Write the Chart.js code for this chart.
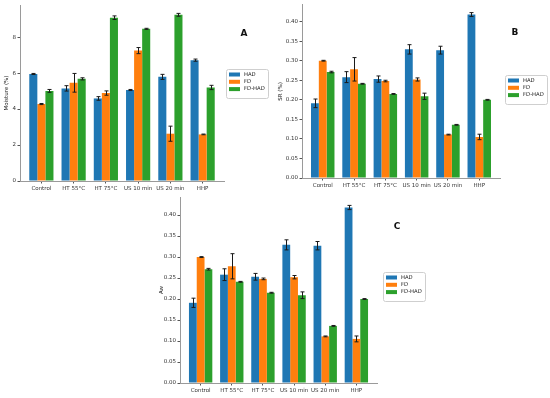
<!DOCTYPE html>
<html>
<head>
<meta charset="utf-8">
<script src="https://cdn.jsdelivr.net/npm/chart.js@4.4.1/dist/chart.umd.min.js"></script>
<style>
  body { margin: 0; background: #fff; }
  #wrap { position: relative; width: 550px; height: 398px; overflow: hidden; }
  canvas { position: absolute; }
</style>
</head>
<body>
<div id="wrap">
  <canvas id="chartA" width="275" height="200" style="left:0;top:0"></canvas>
  <canvas id="chartB" width="275" height="200" style="left:275px;top:0"></canvas>
  <canvas id="chartC" width="280" height="208" style="left:154px;top:190px"></canvas>
</div>
<script>
const categories = ['Control', 'HT 55°C', 'HT 75°C', 'US 10 min', 'US 20 min', 'HHP'];
const seriesNames = ['HAD', 'FD', 'FD-HAD'];
const seriesColors = ['#1f77b4', '#ff7f0e', '#2ca02c'];

// A - moisture (%)
const moistureHAD = [5.95, 5.15, 4.59, 5.06, 5.79, 6.72];
const moistureFD = [4.28, 5.46, 4.89, 7.25, 2.63, 2.59];
const moistureFDHAD = [5.01, 5.68, 9.08, 8.46, 9.24, 5.20];
const moistureErrHAD = [0.03, 0.15, 0.10, 0.03, 0.14, 0.06];
const moistureErrFD = [0.03, 0.52, 0.12, 0.17, 0.42, 0.02];
const moistureErrFDHAD = [0.08, 0.06, 0.10, 0.03, 0.08, 0.12];
const moistureTicks = [0, 2, 4, 6, 8];

// B - SR (%) and C - Aw (same values in the figure)
const srHAD = [0.191, 0.258, 0.253, 0.329, 0.327, 0.418];
const srFD = [0.300, 0.278, 0.248, 0.252, 0.111, 0.105];
const srFDHAD = [0.271, 0.241, 0.215, 0.209, 0.136, 0.200];
const srErrHAD = [0.011, 0.014, 0.008, 0.012, 0.010, 0.005];
const srErrFD = [0.001, 0.030, 0.002, 0.004, 0.001, 0.007];
const srErrFDHAD = [0.002, 0.001, 0.001, 0.008, 0.001, 0.001];
const fractionTicks = [0, 0.05, 0.10, 0.15, 0.20, 0.25, 0.30, 0.35, 0.40];

Chart.defaults.font.family = 'DejaVu Sans';
Chart.defaults.color = '#333';

// draws the black error bars on top of the bars
const errorBars = {
  id: 'errorBars',
  afterDatasetsDraw(chart) {
    const ctx = chart.ctx;
    const y = chart.scales.y;
    ctx.save();
    ctx.strokeStyle = '#1a1a1a';
    ctx.lineWidth = 1;
    chart.data.datasets.forEach((ds, d) => {
      const meta = chart.getDatasetMeta(d);
      meta.data.forEach((bar, i) => {
        const v = ds.data[i].y;
        const e = ds.errors[i];
        const top = y.getPixelForValue(v + e);
        const bot = y.getPixelForValue(v - e);
        const x = Math.round(bar.x) + 0.5;
        ctx.beginPath();
        ctx.moveTo(x, top);
        ctx.lineTo(x, bot);
        ctx.moveTo(x - 2, top);
        ctx.lineTo(x + 2, top);
        ctx.moveTo(x - 2, bot);
        ctx.lineTo(x + 2, bot);
        ctx.stroke();
      });
    });
    ctx.restore();
  }
};

// legend box outside the axes and the panel letter
const panelDecor = {
  id: 'panelDecor',
  afterDraw(chart, args, opts) {
    const ctx = chart.ctx;
    const lg = opts.legend;
    ctx.save();
    ctx.fillStyle = '#fff';
    ctx.strokeStyle = '#cfcfcf';
    ctx.lineWidth = 1;
    ctx.beginPath();
    ctx.roundRect(lg.x + 0.5, lg.y + 0.5, 42, 29, 2);
    ctx.fill();
    ctx.stroke();
    ctx.font = '5.3px "DejaVu Sans"';
    ctx.textBaseline = 'middle';
    chart.data.datasets.forEach((ds, i) => {
      const rowY = lg.y + 5.5 + i * 7.3;
      ctx.fillStyle = ds.backgroundColor;
      ctx.fillRect(lg.x + 3, rowY - 2, 11, 4);
      ctx.fillStyle = '#222';
      ctx.fillText(ds.label, lg.x + 18, rowY);
    });
    ctx.font = 'bold 9px "DejaVu Sans"';
    ctx.textAlign = 'center';
    ctx.fillStyle = '#111';
    ctx.fillText(opts.letter.text, opts.letter.x, opts.letter.y);
    ctx.restore();
  }
};

function makeDatasets(lists, errs) {
  return lists.map((vals, s) => ({
    label: seriesNames[s],
    data: vals.map((v, i) => ({ x: i, y: v })),
    errors: errs[s],
    backgroundColor: seriesColors[s],
    borderWidth: 0,
    categoryPercentage: 0.75,
    barPercentage: 1
  }));
}

function makeChart(id, cfg) {
  const axisGrid = {
    display: true,
    drawOnChartArea: false,
    drawTicks: true,
    tickLength: 2.5,
    tickColor: '#555',
    offset: false
  };
  return new Chart(document.getElementById(id), {
    type: 'bar',
    data: { datasets: makeDatasets(cfg.values, cfg.errors) },
    plugins: [errorBars, panelDecor],
    options: {
      responsive: false,
      animation: false,
      devicePixelRatio: 1,
      layout: { padding: cfg.padding },
      scales: {
        x: {
          type: 'linear',
          min: -0.6625,
          max: 5.6625,
          offset: false,
          grid: axisGrid,
          border: { display: true, color: '#9a9a9a', width: 1 },
          afterBuildTicks: (s) => { s.ticks = categories.map((c, i) => ({ value: i })); },
          afterFit: (s) => { s.height = cfg.xHeight; },
          ticks: {
            autoSkip: false,
            maxRotation: 0,
            padding: 2,
            font: { size: 5.5 },
            callback: (v) => categories[v]
          }
        },
        y: {
          min: 0,
          max: cfg.yMax,
          bounds: 'data',
          grid: axisGrid,
          border: { display: true, color: '#9a9a9a', width: 1 },
          afterBuildTicks: (s) => { s.ticks = cfg.yTicks.map((v) => ({ value: v })); },
          afterFit: (s) => { s.width = cfg.yWidth; },
          ticks: {
            padding: 1.5,
            font: { size: 5.5 },
            callback: cfg.tickFormat
          },
          title: {
            display: true,
            text: cfg.yTitle,
            color: '#222',
            font: { size: 5.5 },
            padding: { top: cfg.titlePad, bottom: 0 }
          }
        }
      },
      plugins: {
        legend: { display: false },
        tooltip: { enabled: false },
        panelDecor: { legend: cfg.legendBox, letter: cfg.letter }
      }
    }
  });
}

makeChart('chartA', {
  values: [moistureHAD, moistureFD, moistureFDHAD],
  errors: [moistureErrHAD, moistureErrFD, moistureErrFDHAD],
  yMax: 9.786,
  yTicks: moistureTicks,
  tickFormat: (v) => String(v),
  yTitle: 'Moisture (%)',
  titlePad: 3,
  yWidth: 20,
  xHeight: 19,
  padding: { left: 0, top: 5, right: 51, bottom: 0 },
  legendBox: { x: 226, y: 69 },
  letter: { text: 'A', x: 244, y: 34 }
});

makeChart('chartB', {
  values: [srHAD, srFD, srFDHAD],
  errors: [srErrHAD, srErrFD, srErrFDHAD],
  yMax: 0.443,
  yTicks: fractionTicks,
  tickFormat: (v) => v.toFixed(2),
  yTitle: 'SR (%)',
  titlePad: 2,
  yWidth: 27,
  xHeight: 22,
  padding: { left: 0, top: 4, right: 50, bottom: 0 },
  legendBox: { x: 230, y: 75 },
  letter: { text: 'B', x: 240, y: 33 }
});

makeChart('chartC', {
  values: [srHAD, srFD, srFDHAD],
  errors: [srErrHAD, srErrFD, srErrFDHAD],
  yMax: 0.443,
  yTicks: fractionTicks,
  tickFormat: (v) => v.toFixed(2),
  yTitle: 'Aw',
  titlePad: 4,
  yWidth: 26,
  xHeight: 15,
  padding: { left: 0, top: 7, right: 57, bottom: 0 },
  legendBox: { x: 229, y: 82 },
  letter: { text: 'C', x: 243, y: 37 }
});
</script>
</body>
</html>
